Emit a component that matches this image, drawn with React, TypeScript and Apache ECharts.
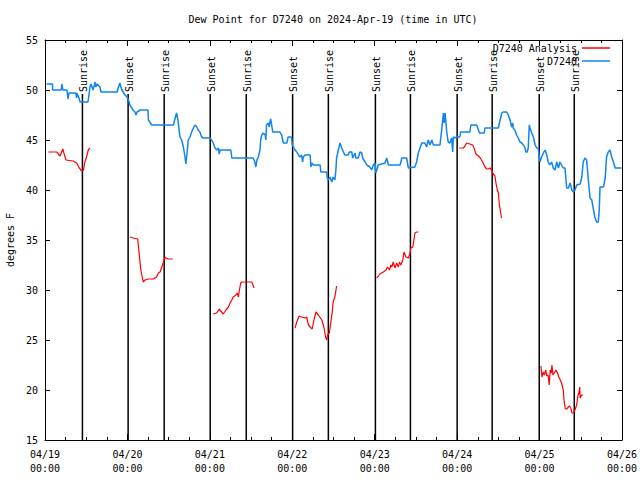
import React, { useEffect, useRef } from 'react';
import * as echarts from 'echarts';

const TITLE = 'Dew Point for D7240 on 2024-Apr-19 (time in UTC)';
const dayLabels = ['04/19', '04/20', '04/21', '04/22', '04/23', '04/24', '04/25', '04/26'];
const timeLabel = '00:00';
const yName = 'degrees F';

// hours since 2024-04-19 00:00 UTC
const blueHours = [
  0.5, 2.2, 2.2, 4.7, 4.9, 5.2, 6.4, 6.7, 7.0, 9.0, 9.2, 9.3, 9.9, 10.2, 12.5, 12.8, 13.1, 13.4, 14.0, 14.6,
  14.8, 15.1, 16.0, 16.3, 21.0, 21.3, 21.8, 22.1, 22.4, 23.3, 23.9, 24.5, 24.7, 25.6, 26.2, 26.5, 26.8, 27.7, 30.0, 30.1,
  31.1, 37.4, 37.9, 38.3, 38.7, 39.3, 39.8, 40.3, 40.8, 41.0, 41.3, 41.7, 42.2, 42.7, 43.2, 43.7, 44.2, 44.6, 45.1, 45.6,
  46.1, 48.0, 48.5, 49.0, 49.5, 50.0, 50.5, 50.7, 51.0, 54.1, 54.4, 60.6, 61.1, 61.4, 61.7, 62.1, 62.6, 62.8, 63.1, 63.6,
  64.1, 64.3, 64.5, 65.0, 65.3, 65.5, 65.7, 66.0, 66.3, 68.4, 68.9, 69.4, 70.4, 70.8, 71.8, 72.0, 72.3, 72.8, 73.3, 73.8,
  74.2, 74.7, 75.0, 75.2, 75.7, 77.2, 77.4, 77.7, 78.1, 80.1, 80.3, 82.0, 82.2, 82.5, 83.0, 83.5, 83.9, 84.4, 84.7, 84.9,
  85.4, 85.9, 86.4, 86.9, 87.3, 88.3, 88.6, 89.3, 89.6, 90.0, 90.3, 90.5, 91.2, 91.7, 92.2, 92.5, 93.2, 93.7, 94.6, 95.1,
  95.6, 96.1, 96.3, 96.6, 97.0, 99.0, 99.5, 100.0, 100.5, 103.4, 103.9, 105.3, 105.8, 107.7, 108.2, 108.7, 109.2, 109.7, 110.6, 111.1,
  111.6, 112.1, 112.6, 113.1, 115.0, 115.5, 116.0, 116.2, 116.5, 117.0, 117.4, 117.9, 118.4, 118.7, 118.9, 119.4, 119.7, 120.8, 121.0, 123.7,
  124.0, 125.7, 126.2, 126.5, 127.9, 128.1, 132.0, 132.3, 133.0, 133.4, 134.4, 134.9, 135.4, 135.9, 136.2, 136.3, 136.8, 137.3, 137.8, 138.3,
  138.8, 139.3, 139.8, 140.0, 140.4, 140.7, 141.0, 141.2, 141.7, 142.2, 142.7, 143.2, 143.6, 143.9, 144.1, 144.6, 145.1, 145.6, 146.1, 146.5,
  147.0, 147.5, 148.0, 148.5, 149.0, 149.5, 149.9, 150.4, 150.9, 151.4, 151.9, 152.4, 152.9, 153.4, 153.8, 154.3, 154.8, 155.8, 156.3, 156.7,
  157.2, 157.7, 158.2, 158.7, 159.2, 159.6, 160.1, 160.6, 161.1, 161.4, 161.6, 162.6, 163.1, 163.5, 164.0, 164.5, 165.0, 165.5, 166.0, 167.9,
];
const blueValues = [
  50.6, 50.6, 50.0, 50.0, 50.6, 50.0, 50.0, 49.1, 49.7, 49.7, 49.2, 49.7, 49.2, 48.8, 48.8, 49.5, 50.3, 50.6, 50.0, 50.8,
  50.3, 50.6, 50.3, 49.8, 49.8, 50.2, 50.7, 50.3, 50.0, 49.5, 49.3, 48.8, 48.5, 48.0, 47.8, 47.5, 47.8, 48.0, 48.0, 47.0,
  46.5, 46.5, 47.2, 47.7, 47.0, 45.3, 45.0, 44.3, 43.2, 42.6, 43.5, 45.0, 45.3, 45.8, 46.2, 46.5, 46.3, 46.0, 45.8, 45.3,
  45.2, 45.2, 45.0, 44.7, 44.2, 44.0, 44.2, 43.6, 44.0, 44.0, 43.2, 43.2, 42.8, 42.3, 43.0, 43.3, 44.0, 45.0, 45.5, 45.7,
  45.5, 45.0, 46.5, 46.7, 46.3, 46.8, 47.1, 46.5, 45.8, 45.8, 45.5, 44.7, 44.7, 45.3, 45.3, 44.5, 44.3, 44.0, 43.8, 43.5,
  43.3, 43.5, 42.8, 43.3, 43.5, 43.5, 42.3, 42.7, 42.5, 42.5, 41.8, 41.8, 41.2, 41.0, 41.3, 40.8, 41.3, 41.0, 42.0, 43.2,
  44.0, 44.7, 44.2, 43.8, 43.5, 43.5, 43.8, 43.8, 43.2, 43.5, 43.7, 43.2, 43.2, 43.8, 43.7, 43.2, 42.8, 42.5, 42.3, 42.0,
  42.5, 42.7, 41.7, 42.0, 42.5, 42.7, 43.2, 42.5, 42.5, 42.5, 43.2, 43.2, 42.2, 42.3, 42.8, 43.7, 44.2, 44.7, 44.7, 44.3,
  45.0, 44.5, 45.0, 44.5, 44.5, 46.0, 47.7, 46.7, 47.7, 45.7, 44.8, 44.7, 45.2, 43.8, 45.3, 45.2, 45.3, 45.3, 45.8, 45.8,
  46.5, 46.5, 46.0, 45.7, 45.7, 46.2, 46.2, 46.7, 47.7, 47.8, 47.8, 47.5, 47.0, 46.3, 46.7, 46.2, 46.0, 45.5, 45.2, 44.8,
  44.7, 44.5, 44.2, 43.8, 43.8, 44.2, 46.5, 46.2, 45.7, 45.3, 44.5, 44.2, 44.2, 43.5, 42.8, 43.3, 43.7, 44.0, 43.5, 42.8,
  42.5, 42.8, 42.2, 42.0, 42.8, 42.2, 42.8, 42.5, 42.2, 42.2, 40.2, 40.2, 40.7, 40.0, 39.8, 40.0, 40.5, 40.6, 41.3, 42.8,
  43.2, 43.0, 41.0, 39.2, 39.0, 38.2, 37.3, 36.8, 36.8, 38.2, 40.3, 40.3, 41.2, 43.3, 43.8, 44.0, 43.3, 42.8, 42.2, 42.2,
];

// analysis series, null = gap between daily runs
const redHours = [
  1.0, 3.4, 4.4, 5.2, 5.5, 6.1, 8.2, 8.7, 9.2, 10.0, 10.7, 11.2, 11.6, 12.1, 12.6, 13.1, 18.0,
  24.7, 25.7, 27.0, 27.4, 27.9, 28.6, 29.1, 30.1, 31.5, 32.5, 33.0, 33.5, 34.0, 34.4, 34.9, 35.2, 35.9, 37.2, 42.0,
  49.0, 50.0, 50.7, 51.4, 51.9, 52.7, 53.4, 53.9, 54.4, 54.8, 55.6, 56.0, 56.3, 56.6, 57.0, 57.3, 60.2, 60.9, 66.0,
  72.8, 73.3, 74.0, 74.7, 75.7, 76.2, 76.7, 77.2, 77.8, 78.3, 78.9, 79.6, 80.6, 81.2, 81.7, 82.0, 82.3, 82.8, 83.2, 83.7, 83.9, 84.4, 84.9, 90.0,
  96.6, 97.5, 98.5, 99.3, 99.7, 100.3, 100.7, 101.0, 101.4, 101.9, 102.4, 102.9, 103.2, 103.6, 104.2, 104.5, 105.1, 105.8, 106.3, 106.5, 107.1, 107.4, 107.7, 108.2, 108.7, 114.0,
  120.6, 121.8, 122.3, 122.8, 123.7, 124.5, 124.9, 125.5, 126.2, 126.7, 127.1, 127.6, 128.1, 128.6, 129.1, 129.6, 130.1, 130.3, 131.0, 131.3, 131.7, 132.0, 132.3, 132.7, 132.9, 138.0,
  144.4, 144.7, 145.1, 145.4, 145.8, 146.1, 146.5, 146.8, 147.1, 147.4, 147.6, 147.9, 148.2, 148.5, 148.8, 149.2, 149.6, 149.9, 150.4, 150.9,
  151.1, 151.5, 151.9, 152.4, 152.7, 153.1, 153.4, 153.8, 154.3, 154.8, 155.1, 155.5, 155.7, 155.8, 156.3, 156.7,
];
const redValues: (number | null)[] = [
  43.8, 43.8, 43.4, 44.1, 43.7, 43.0, 42.9, 42.8, 42.7, 42.2, 41.9, 42.0, 42.8, 43.3, 44.0, 44.2, null,
  35.3, 35.2, 35.1, 33.7, 32.0, 30.8, 31.0, 31.1, 31.1, 31.3, 31.7, 31.8, 32.3, 32.7, 33.3, 33.2, 33.1, 33.1, null,
  27.6, 27.7, 28.1, 27.8, 27.6, 28.0, 28.3, 28.7, 29.0, 29.3, 29.5, 29.7, 29.3, 30.0, 30.7, 30.8, 30.8, 30.2, null,
  26.2, 26.8, 27.4, 27.3, 27.2, 27.3, 26.5, 26.3, 26.1, 27.0, 27.8, 27.5, 27.0, 26.3, 25.3, 25.0, 25.5, 25.7, 26.7, 28.0, 28.8, 29.3, 30.4, null,
  31.2, 31.6, 31.8, 32.0, 32.3, 32.0, 32.5, 32.3, 32.8, 32.2, 32.7, 32.3, 32.8, 32.5, 33.0, 33.8, 33.3, 33.2, 33.7, 34.2, 34.3, 35.0, 35.7, 35.8, 35.8, null,
  44.2, 44.2, 44.4, 44.7, 44.6, 44.5, 44.2, 43.6, 43.4, 43.2, 43.0, 42.7, 42.3, 42.1, 42.1, 42.2, 42.0, 41.7, 41.4, 40.7, 40.0, 39.7, 38.5, 37.7, 37.2, null,
  22.4, 21.3, 21.8, 21.5, 22.0, 21.4, 21.5, 20.5, 22.0, 21.7, 22.5, 21.5, 21.7, 21.8, 22.0, 21.7, 21.3, 21.1, 20.7, 20.0,
  19.0, 18.1, 18.1, 18.3, 18.4, 18.2, 17.7, 17.7, 18.0, 18.5, 19.3, 19.8, 20.3, 19.2, 19.5, 19.5,
];

const sunHours = [10.9, 24.2, 34.7, 48.1, 58.6, 72.1, 82.5, 96.2, 106.4, 120.0, 130.2, 143.9, 154.1];
const sunKinds = ['Sunrise', 'Sunset', 'Sunrise', 'Sunset', 'Sunrise', 'Sunset', 'Sunrise', 'Sunset', 'Sunrise', 'Sunset', 'Sunrise', 'Sunset', 'Sunrise'];

const FONT = '"DejaVu Sans Mono", monospace';

export default function App() {
  const ref = useRef<HTMLDivElement>(null);
  useEffect(() => {
    if (!ref.current) return;
    const chart = echarts.init(ref.current, null, { renderer: 'svg' });
    const blueData = blueHours.map((h, i) => [h, blueValues[i]]);
    const redData = redHours.map((h, i) => [h, redValues[i] === null ? '-' : redValues[i]]);
    const sunData = sunHours.map((h) => [h, 15]);
    const tickStyle = { color: '#000', width: 1 };
    const textBase = { fontFamily: FONT, fontSize: 10, color: '#000' };
    const legendBase = {
      right: 30,
      orient: 'vertical',
      align: 'right',
      icon: 'rect',
      itemWidth: 28,
      itemHeight: 1.5,
      padding: 0,
      selectedMode: false,
      textStyle: textBase,
    };
    chart.setOption({
      animation: false,
      backgroundColor: '#fff',
      graphic: [
        {
          type: 'text',
          x: 333,
          y: 19,
          style: {
            text: TITLE,
            align: 'center',
            verticalAlign: 'middle',
            fontFamily: FONT,
            fontSize: 10,
            fill: '#000',
          },
        },
      ],
      legend: [
        { ...legendBase, data: ['D7240 Analysis'], top: 43 },
        { ...legendBase, data: ['D7240'], top: 56 },
      ],
      grid: { left: 45, right: 18, top: 40, bottom: 40, containLabel: false, outerBoundsMode: 'none' },
      xAxis: [
        {
          type: 'value',
          min: 0,
          max: 168,
          interval: 24,
          axisLine: { show: true, onZero: false, lineStyle: tickStyle },
          axisTick: { show: true, inside: true, length: 6, lineStyle: tickStyle },
          minorTick: { show: true, splitNumber: 4, length: 3, lineStyle: tickStyle },
          splitLine: { show: false },
          axisLabel: {
            ...textBase,
            margin: 7,
            lineHeight: 14,
            formatter: (v: number) => `${dayLabels[Math.round(v / 24)]}\n${timeLabel}`,
          },
        },
        {
          type: 'value',
          position: 'top',
          min: 0,
          max: 168,
          interval: 24,
          axisLine: { show: true, onZero: false, lineStyle: tickStyle },
          axisTick: { show: true, inside: true, length: 6, lineStyle: tickStyle },
          minorTick: { show: true, splitNumber: 4, length: 3, lineStyle: tickStyle },
          splitLine: { show: false },
          axisLabel: { show: false },
        },
      ],
      yAxis: [
        {
          type: 'value',
          min: 15,
          max: 55,
          interval: 5,
          name: yName,
          nameLocation: 'middle',
          nameGap: 30,
          nameTextStyle: textBase,
          axisLine: { show: true, onZero: false, lineStyle: tickStyle },
          axisTick: { show: true, inside: true, length: 5, lineStyle: tickStyle },
          splitLine: { show: false },
          axisLabel: { ...textBase, margin: 7 },
        },
        {
          type: 'value',
          position: 'right',
          min: 15,
          max: 55,
          interval: 5,
          axisLine: { show: true, onZero: false, lineStyle: tickStyle },
          axisTick: { show: true, inside: true, length: 5, lineStyle: tickStyle },
          splitLine: { show: false },
          axisLabel: { show: false },
        },
      ],
      series: [
        {
          name: 'sun',
          type: 'custom',
          xAxisIndex: 0,
          yAxisIndex: 0,
          data: sunData,
          encode: { x: 0, y: 1 },
          silent: true,
          z: 1,
          renderItem: (params: any, api: any) => {
            const h = api.value(0);
            const bottom = api.coord([h, 15]);
            const top = api.coord([h, 49.6]);
            const anchor = api.coord([h, 49.8]);
            return {
              type: 'group',
              children: [
                {
                  type: 'line',
                  shape: { x1: bottom[0], y1: bottom[1], x2: top[0], y2: top[1] },
                  style: { stroke: '#000', lineWidth: 1.5 },
                },
                {
                  type: 'text',
                  x: anchor[0] + 1,
                  y: anchor[1],
                  rotation: Math.PI / 2,
                  style: {
                    text: sunKinds[params.dataIndex],
                    align: 'left',
                    verticalAlign: 'middle',
                    fontFamily: FONT,
                    fontSize: 10,
                    fill: '#000',
                  },
                },
              ],
            };
          },
        },
        {
          name: 'D7240',
          type: 'line',
          xAxisIndex: 0,
          yAxisIndex: 0,
          data: blueData,
          symbol: 'none',
          z: 3,
          lineStyle: { color: '#1084f0', width: 1.5 },
          itemStyle: { color: '#1084f0' },
        },
        {
          name: 'D7240 Analysis',
          type: 'line',
          xAxisIndex: 0,
          yAxisIndex: 0,
          data: redData,
          symbol: 'none',
          connectNulls: false,
          z: 4,
          lineStyle: { color: '#ff0000', width: 1.2 },
          itemStyle: { color: '#ff0000' },
        },
      ],
    });
    return () => chart.dispose();
  }, []);
  return (
    <div
      ref={ref}
      style={{ position: 'absolute', left: 0, top: 0, width: 640, height: 480 }}
    />
  );
}
